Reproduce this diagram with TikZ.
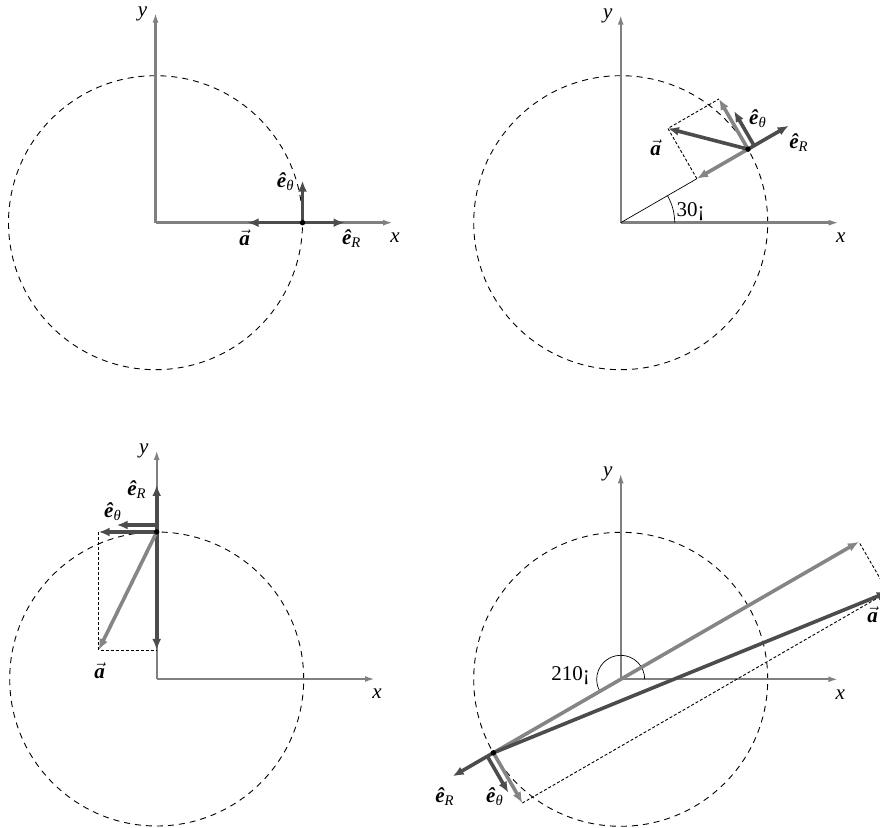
\documentclass[tikz,border=0pt]{standalone}
\usepackage{fontspec}
\setmainfont{Liberation Serif}
\usetikzlibrary{arrows.meta,calc}

\definecolor{axisgray}{gray}{0.5}
\definecolor{veclight}{gray}{0.52}
\definecolor{vecdark}{gray}{0.3}

\newcommand{\ehat}{\textbf{\textit{ê}}}
\newcommand{\eRhat}{\ehat\textsubscript{\textit{R}}}
\newcommand{\eThat}{\ehat\textsubscript{\textit{θ}}}
\newcommand{\avec}{$\vec{\mbox{\textbf{\textit{a}}}}$}

\begin{document}
\begin{tikzpicture}[x=1pt, y=1pt,
    axis/.style={draw=axisgray, line width=2.4pt, -{Latex[length=10pt,width=6pt]}},
    darkarrow/.style={draw=vecdark, line width=3.6pt, -{Latex[length=11pt,width=9pt]}},
    lightarrow/.style={draw=veclight, line width=3.6pt, -{Latex[length=11pt,width=9pt]}},
    orbit/.style={line width=0.9pt, dash pattern=on 6pt off 5pt},
    guide/.style={line width=0.9pt, dash pattern=on 3pt off 2pt},
    lbl/.style={font=\fontsize{21}{25}\selectfont, inner sep=0pt}]
    \useasboundingbox (0,0) rectangle (880,827);
    \clip (0,0) rectangle (880,827);

    % Circles and axes
    \foreach \n/\ox/\oy/\lx/\ly in {1/155.5/604.3/237.5/210, 2/620.7/604.3/218/208,
                                    3/156.7/148/218.3/229, 4/620.7/147.7/217.6/206} {
        \coordinate (O\n) at (\ox,\oy);
        \draw[orbit] (O\n) circle (147);
        \draw[axis] (O\n) -- ++(\lx,0) coordinate (X\n);
        \draw[axis] (O\n) -- ++(0,\ly) coordinate (Y\n);
        \node[lbl] (xlab\n) at ($(X\n)+(2,-15)$) {\textit{x}};
        \node[lbl] (ylab\n) at ($(Y\n)+(-13,-1)$) {\textit{y}};
    }

    % Theta = 0
    \begin{scope}[shift={(155.5,604.3)}]
        \coordinate (P1) at (0:147);
        \draw[darkarrow] (P1) -- ++(0:42);
        \draw[darkarrow] (P1) -- ++(90:42);
        \draw[darkarrow] (P1) -- ++(180:55);
        \fill (P1) circle (2.7);
        \node[lbl] (et1) at (130,41) {\eThat};
        \node[lbl] (er1) at (196,-16) {\eRhat};
        \node[lbl] (a1) at (89,-15) {\avec};
    \end{scope}

    % Theta = 30
    \begin{scope}[shift={(620.7,604.3)}]
        \coordinate (P2) at (30:147);
        \path (P2) ++(30:7) coordinate (C2);
        \path (P2) ++(210:59) coordinate (R2);
        \path (P2) ++(120:58) coordinate (T2);
        \path (R2) ++(120:58) coordinate (A2);
        \draw[line width=0.7pt] (0,0) -- (R2);
        \draw[line width=0.7pt] (54,0) arc (0:30:54);
        \draw[guide] (R2) -- (A2) -- (T2);
        \draw[lightarrow] (P2) -- (R2);
        \draw[lightarrow] (P2) -- (T2);
        \draw[darkarrow] (P2) -- (A2);
        \draw[darkarrow] (P2) -- ++(30:47);
        \draw[darkarrow] (C2) -- ++(120:40);
        \fill (P2) circle (2.7);
        \node[lbl] (et2) at (137,104) {\eThat};
        \node[lbl] (er2) at (178,80) {\eRhat};
        \node[lbl] (a2) at (35,75) {\avec};
        \node[lbl] (ang2) at (70,11) {30¡};
    \end{scope}

    % Theta = 90
    \begin{scope}[shift={(156.7,148)}]
        \coordinate (P3) at (90:147);
        \path (P3) ++(90:7) coordinate (C3);
        \path (P3) ++(270:118) coordinate (R3);
        \path (P3) ++(180:58) coordinate (T3);
        \path (R3) ++(180:58) coordinate (A3);
        \draw[guide] (T3) -- (A3) -- (R3);
        \draw[darkarrow] (P3) -- (R3);
        \draw[darkarrow] (P3) -- (T3);
        \draw[lightarrow] (P3) -- (A3);
        \draw[darkarrow] (P3) -- ++(90:47);
        \draw[darkarrow] (C3) -- ++(180:40);
        \fill (P3) circle (2.7);
        \node[lbl] (er3) at (-20,189) {\eRhat};
        \node[lbl] (et3) at (-44,167) {\eThat};
        \node[lbl] (a3) at (-57,8) {\avec};
    \end{scope}

    % Theta = 210
    \begin{scope}[shift={(620.7,147.7)}]
        \coordinate (P4) at (210:147);
        \path (P4) ++(210:7) coordinate (C4);
        \path (P4) ++(30:422) coordinate (R4);
        \path (P4) ++(300:58) coordinate (T4);
        \path (R4) ++(300:58) coordinate (A4);
        \draw[line width=0.7pt] (24,0) arc (0:210:24);
        \draw[guide] (T4) -- (A4) -- (R4);
        \draw[lightarrow] (P4) -- (R4);
        \draw[lightarrow] (P4) -- (T4);
        \draw[darkarrow] (P4) -- (A4);
        \draw[darkarrow] (P4) -- ++(210:47);
        \draw[darkarrow] (C4) -- ++(300:42);
        \fill (P4) circle (2.7);
        \node[lbl] (er4) at (-176,-117) {\eRhat};
        \node[lbl] (et4) at (-126,-117) {\eThat};
        \node[lbl] (a4) at (252,65) {\avec};
        \node[lbl] (ang4) at (-50,4) {210¡};
    \end{scope}
\end{tikzpicture}
\end{document}
